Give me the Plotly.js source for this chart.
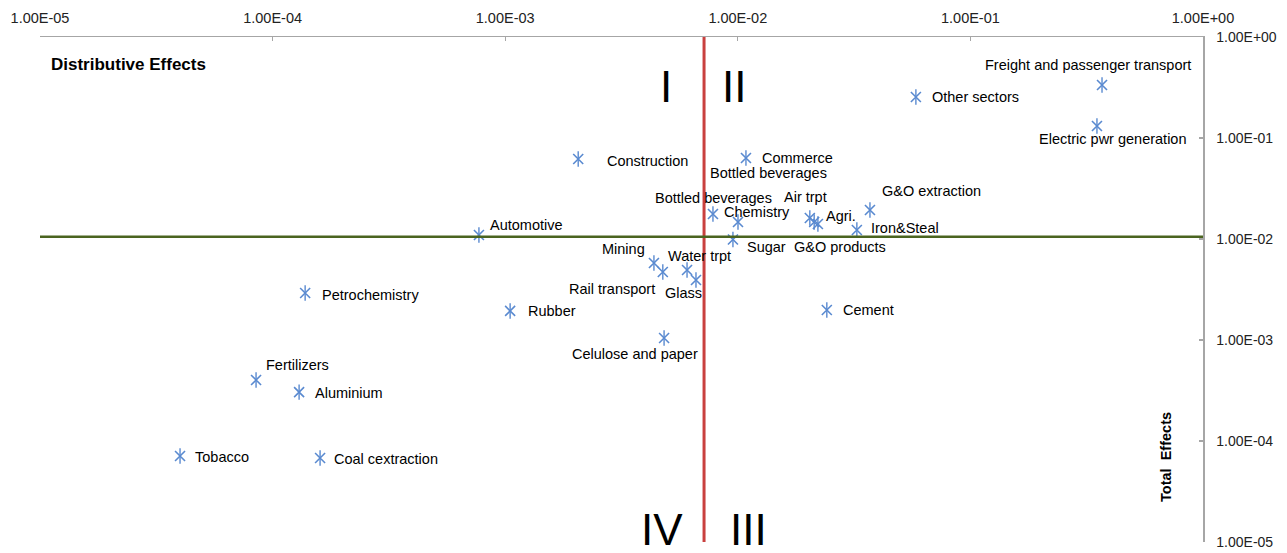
<!DOCTYPE html>
<html>
<head>
<meta charset="utf-8">
<script src="https://cdn.plot.ly/plotly-3.0.1.min.js"></script>
<style>html,body{margin:0;padding:0;background:#fff;}#chart{width:1287px;height:553px;}</style>
</head>
<body>
<div id="chart"></div>
<script>
// Sector names
const sectors = [
  "Freight and passenger transport", "Electric pwr generation", "Other sectors", "Construction",
  "Commerce", "G&O extraction", "Chemistry", "Bottled beverages", "Air trpt", "G&O products",
  "Agri.", "Iron&Steal", "Sugar", "Automotive", "Mining", "Rail transport", "Water trpt", "Glass",
  "Celulose and paper", "Cement", "Petrochemistry", "Rubber", "Fertilizers", "Aluminium",
  "Tobacco", "Coal cextraction"
];
// Distributive effects (x)
const distributive = [
  0.368, 0.350, 0.0583, 0.00206,
  0.01084, 0.0370, 0.00782, 0.01002, 0.0204, 0.0213,
  0.0221, 0.0325, 0.00953, 0.000771, 0.00436, 0.00476, 0.00605, 0.00661,
  0.00482, 0.02414, 0.000138, 0.00105, 0.0000849, 0.000130,
  0.0000400, 0.000160
];
// Total effects (y)
const totalEffects = [
  0.335, 0.1315, 0.2547, 0.0620,
  0.0634, 0.01937, 0.0177, 0.01473, 0.01614, 0.01473,
  0.01408, 0.01228, 0.00989, 0.01096, 0.00579, 0.00471, 0.00493, 0.00393,
  0.001047, 0.00198, 0.00292, 0.00194, 0.000402, 0.000305,
  0.0000710, 0.0000679
];
// Threshold lines
const xThreshold = 0.00716;
const yThreshold = 0.0105;
// Axis extent
const axisMin = 1e-5, axisMax = 1;
// Tick values and labels
const tickVals = [1e-5, 1e-4, 1e-3, 1e-2, 1e-1, 1];
const tickLabels = ["1.00E-05", "1.00E-04", "1.00E-03", "1.00E-02", "1.00E-01", "1.00E+00"];
// Quadrant labels
const quadrants = ["I", "II", "III", "IV"];

// Label placement: [text, anchor sector, dx, dy, xanchor]
const labelPlacement = [
  ["Freight and passenger transport", "Freight and passenger transport", -14, -20, "center"],
  ["Electric pwr generation", "Electric pwr generation", 16, 13, "center"],
  ["Other sectors", "Other sectors", 14, 0, "left"],
  ["Construction", "Construction", 27, 2, "left"],
  ["Commerce", "Commerce", 14, 0, "left"],
  ["Bottled beverages", "Commerce", 23, 15, "center"],
  ["Bottled beverages", "Chemistry", 1, -16, "center"],
  ["Chemistry", "Chemistry", 9, -2, "left"],
  ["Air trpt", "Air trpt", -4, -21, "center"],
  ["Agri.", "Agri.", 6, -8, "left"],
  ["G&O products", "G&O products", 26, 25, "center"],
  ["G&O extraction", "G&O extraction", 10, -19, "left"],
  ["Iron&Steal", "Iron&Steal", 12, -2, "left"],
  ["Sugar", "Sugar", 12, 8, "left"],
  ["Automotive", "Automotive", 9, -10, "left"],
  ["Mining", "Mining", -7, -14, "right"],
  ["Water trpt", "Water trpt", -21, -14, "left"],
  ["Rail transport", "Rail transport", -6, 17, "right"],
  ["Glass", "Glass", -12, 13, "center"],
  ["Celulose and paper", "Celulose and paper", -29, 16, "center"],
  ["Cement", "Cement", 14, 0, "left"],
  ["Petrochemistry", "Petrochemistry", 15, 2, "left"],
  ["Rubber", "Rubber", 16, 0, "left"],
  ["Fertilizers", "Fertilizers", 8, -15, "left"],
  ["Aluminium", "Aluminium", 14, 1, "left"],
  ["Tobacco", "Tobacco", 13, 1, "left"],
  ["Coal cextraction", "Coal cextraction", 12, 1, "left"]
];

const FONT = "Liberation Sans, Arial, sans-serif";

const annotations = labelPlacement.map(function (p) {
  const i = sectors.indexOf(p[1]);
  return {
    x: Math.log10(distributive[i]), y: Math.log10(totalEffects[i]),
    xref: "x", yref: "y", text: p[0], showarrow: false,
    xshift: p[2], yshift: -p[3], xanchor: p[4], yanchor: "middle",
    font: {family: FONT, size: 14.5, color: "#000"}
  };
});

const romanFont = {family: FONT, size: 44, color: "#000"};
const romanPos = {"I": [0.538, 0.901], "II": [0.597, 0.901], "III": [0.609, 0.024], "IV": [0.535, 0.024]};
quadrants.forEach(function (q) {
  annotations.push({x: romanPos[q][0], y: romanPos[q][1], xref: "paper", yref: "paper",
    text: q, showarrow: false, xanchor: "center", yanchor: "middle", font: romanFont});
});
annotations.push({x: 0.0077, y: 0.9446, xref: "paper", yref: "paper", text: "<b>Distributive Effects</b>",
  showarrow: false, xanchor: "left", yanchor: "middle",
  font: {family: FONT, size: 17, color: "#000"}});
annotations.push({x: 0.968, y: 0.168, xref: "paper", yref: "paper", text: "<b>Total  Effects</b>",
  showarrow: false, textangle: -90, xanchor: "center", yanchor: "middle",
  font: {family: FONT, size: 14.5, color: "#000"}});

const markerColor = "#5a8ad0";
const crossTrace = {
  x: distributive, y: totalEffects, text: sectors, type: "scatter", mode: "markers",
  marker: {symbol: "x-thin-open", size: 10, color: markerColor, line: {color: markerColor, width: 1.6}},
  hoverinfo: "text", showlegend: false, cliponaxis: false
};
const stemTrace = {
  x: distributive, y: totalEffects, type: "scatter", mode: "markers",
  marker: {symbol: "line-ns-open", size: 11, color: markerColor, line: {color: markerColor, width: 1.4}},
  hoverinfo: "skip", showlegend: false, cliponaxis: false
};
const redLine = {
  x: [xThreshold, xThreshold], y: [axisMin, axisMax], type: "scatter", mode: "lines",
  line: {color: "#C9403F", width: 3}, hoverinfo: "skip", showlegend: false, cliponaxis: false
};
const greenLine = {
  x: [axisMin, axisMax], y: [yThreshold, yThreshold], type: "scatter", mode: "lines",
  line: {color: "#4a6420", width: 2.5}, hoverinfo: "skip", showlegend: false, cliponaxis: false
};

const axisCommon = {
  type: "log", range: [-5, 0], tickvals: tickVals, ticktext: tickLabels,
  showgrid: false, zeroline: false, showline: true, linecolor: "#a6a6a6", linewidth: 1.5,
  ticks: "inside", ticklen: 4, tickcolor: "#a6a6a6", tickwidth: 1.2
};

const layout = {
  width: 1287, height: 553,
  margin: {l: 40, r: 84, t: 37, b: 11, pad: 0},
  paper_bgcolor: "#fff", plot_bgcolor: "#fff",
  xaxis: Object.assign({}, axisCommon, {side: "top", ticklabelstandoff: 7,
    tickfont: {family: FONT, size: 14.5, color: "#222"}}),
  yaxis: Object.assign({}, axisCommon, {side: "right", ticklabelstandoff: 9,
    tickfont: {family: FONT, size: 14, color: "#222"}}),
  annotations: annotations,
  showlegend: false
};

Plotly.newPlot("chart", [crossTrace, stemTrace, redLine, greenLine], layout, {displayModeBar: false, staticPlot: true});
</script>
</body>
</html>
